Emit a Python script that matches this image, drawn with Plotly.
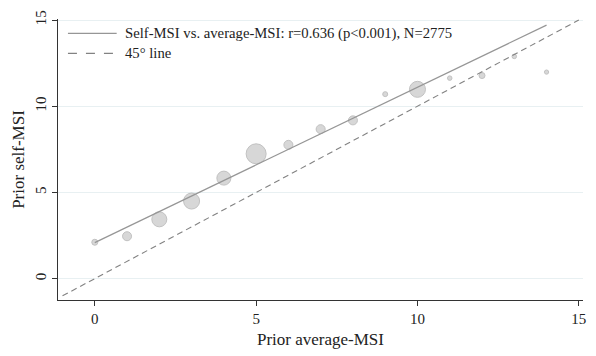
import numpy as np
import plotly.graph_objects as go

# Binned means of prior self-MSI by prior average-MSI, with bin counts
avg_msi = [0, 1, 2, 3, 4, 5, 6, 7, 8, 9, 10, 11, 12, 13, 14]
self_msi = [2.11, 2.46, 3.44, 4.50, 5.83, 7.24, 7.76, 8.67, 9.18, 10.70, 10.98, 11.63, 11.78, 12.89, 11.98]
counts = [55, 124, 345, 392, 300, 613, 124, 124, 124, 38, 392, 31, 55, 31, 27]

# Linear fit of self-MSI on average-MSI
fit_intercept = 2.09
fit_slope = 0.901

# 45-degree reference line end points
diag = [-1, 15]

legend_fit = "Self-MSI vs. average-MSI: r=0.636 (p<0.001), N=2775"
legend_diag = "45\u00b0 line"
x_title = "Prior average-MSI"
y_title = "Prior self-MSI"
tick_vals = [0, 5, 10, 15]

FONT = "Liberation Serif"
TEXT = "#222222"

x = np.array(avg_msi, dtype=float)
n = np.array(counts, dtype=float)
diam = 20.0 * np.sqrt(n / n.max())

fit_x = np.array([x.min(), x.max()])
fit_y = fit_intercept + fit_slope * fit_x

fig = go.Figure()

fig.add_trace(go.Scatter(
    x=avg_msi, y=self_msi, mode="markers",
    marker=dict(size=diam, color="rgba(196,196,196,0.95)",
                line=dict(color="rgb(168,168,168)", width=1)),
    showlegend=False, hoverinfo="skip",
))
fig.add_trace(go.Scatter(
    x=fit_x, y=fit_y, mode="lines",
    line=dict(color="rgb(150,150,150)", width=1.2),
    showlegend=False,
))
fig.add_trace(go.Scatter(
    x=diag, y=diag, mode="lines",
    line=dict(color="rgb(130,130,130)", width=1.1, dash="6px,4px"),
    showlegend=False,
))

# Legend drawn by hand in the top-left of the plot area
L, R, T, B = 58, 10, 14, 48
W, H = 596, 356
pw, ph = W - L - R, H - T - B


def px(xp):
    return (xp - L) / pw


def py(yp):
    return (H - B - yp) / ph


for yrow, dash, col, label in [
    (29, "solid", "rgb(150,150,150)", legend_fit),
    (50, "dash", "rgb(130,130,130)", legend_diag),
]:
    fig.add_shape(type="line", xref="paper", yref="paper",
                  x0=px(68), x1=px(117), y0=py(yrow), y1=py(yrow),
                  line=dict(color=col, width=1.2, dash=dash))
    fig.add_annotation(xref="paper", yref="paper", x=px(123), y=py(yrow),
                       text=label, showarrow=False, xanchor="left",
                       yanchor="middle",
                       font=dict(family=FONT, size=14.7, color=TEXT))

fig.update_layout(
    width=W, height=H,
    margin=dict(l=L, r=R, t=T, b=B),
    paper_bgcolor="white", plot_bgcolor="white",
    font=dict(family=FONT, color=TEXT),
    showlegend=False,
)
fig.update_xaxes(
    range=[-1.14, 15.13], tickvals=tick_vals, ticks="outside", ticklen=5,
    tickcolor="#333", showline=True, linecolor="#333", linewidth=1.2,
    showgrid=False, zeroline=False,
    tickfont=dict(family=FONT, size=15, color=TEXT),
    title=dict(text=x_title, font=dict(family=FONT, size=17, color=TEXT),
               standoff=7),
)
fig.update_yaxes(
    range=[-1.24, 15.06], tickvals=tick_vals, ticks="outside", ticklen=5,
    tickcolor="#333", showline=True, linecolor="#333", linewidth=1.2,
    showgrid=True, gridcolor="rgb(232,240,242)", gridwidth=1, zeroline=False,
    tickangle=-90,
    tickfont=dict(family=FONT, size=15, color=TEXT),
    title=dict(text=y_title, font=dict(family=FONT, size=17, color=TEXT),
               standoff=3),
)

fig.write_html("out.html")
